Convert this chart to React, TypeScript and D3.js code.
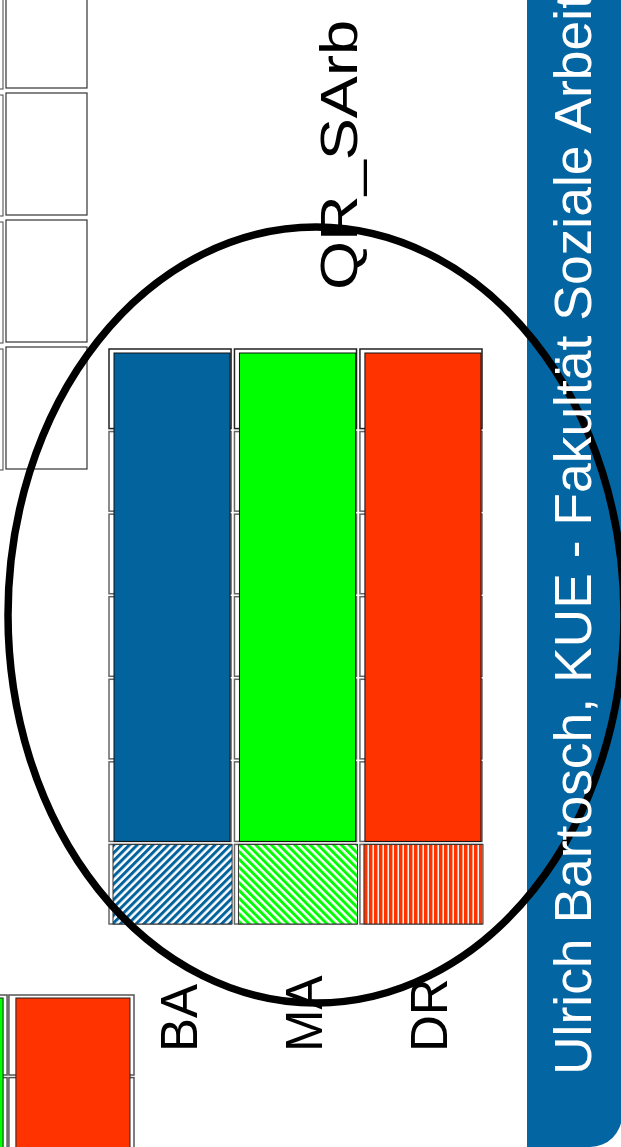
import * as d3 from "d3";

// main chart (rotated slide fragment)
const categories = ["BA", "MA", "DR"];
const solidValues = [6, 6, 6];
const hatchedValues = [1, 1, 1];
const gridRows = [0, 1, 2, 3, 4, 5, 6];

// partial charts cut off at the left edge
const leftRows = [0, 1, 2, 3];
const bottomCategories = ["MA", "DR"];
const bottomValues = [7, 7];

const title = "QR_SArb";
const footer = "Ulrich Bartosch, KUE - Fakultät Soziale Arbeit";

const W = 621;
const H = 1147;
const font = "'Liberation Sans', Arial, sans-serif";

const colors: Record<string, string> = {
  BA: "#03639c",
  MA: "#00ff00",
  DR: "#ff3300",
};

function App() {
  const x = d3
    .scaleBand<string>()
    .domain(categories)
    .range([112, 484])
    .paddingInner(0.035);
  const y = d3.scaleLinear().domain([0, 7]).range([926, 348]);

  const leftY = d3.scaleLinear().domain([0, 4]).range([472, -36]);

  const bx = d3
    .scaleBand<string>()
    .domain(bottomCategories)
    .range([-116, 134])
    .paddingInner(0.03);
  const by = d3.scaleLinear().domain([0, 7]).range([995 + 7 * 82.6, 995]);

  const bw = x.bandwidth();

  return (
    <svg
      width={W}
      height={H}
      style={{ position: "absolute", left: 0, top: 0, background: "#fff" }}
    >
      <defs>
        <pattern id="hBA" width="5.5" height="5.5" patternUnits="userSpaceOnUse" patternTransform="rotate(45)">
          <rect width="5.5" height="5.5" fill="#fff" />
          <rect width="3" height="5.5" fill={colors.BA} />
        </pattern>
        <pattern id="hMA" width="5.5" height="5.5" patternUnits="userSpaceOnUse" patternTransform="rotate(-45)">
          <rect width="5.5" height="5.5" fill="#fff" />
          <rect width="3" height="5.5" fill={colors.MA} />
        </pattern>
        <pattern id="hDR" width="5" height="5" patternUnits="userSpaceOnUse">
          <rect width="5" height="5" fill="#ff3300" />
          <rect x="2" width="1" height="5" fill="#ff9c80" />
          <rect x="3" width="1" height="5" fill="#fff2ee" />
        </pattern>
      </defs>

      {/* left partial grid */}
      {leftRows.map((r) => (
        <g key={"l" + r}>
          <rect x={-80} y={leftY(r + 1) + 4} width={83} height={leftY(r) - leftY(r + 1) - 6} fill="#fff" stroke="#444" strokeWidth={1} />
          <rect x={6} y={leftY(r + 1) + 2} width={81} height={leftY(r) - leftY(r + 1) - 5} fill="#fff" stroke="#333" strokeWidth={1.2} />
        </g>
      ))}

      {/* bottom-left partial chart */}
      {bottomCategories.map((c) =>
        gridRows.slice(0, 2).map((r) => (
          <rect key={c + r} x={(bx(c) ?? 0) - 2} y={by(7 - r)} width={bx.bandwidth() + 2} height={80} fill="#fff" stroke="#555" strokeWidth={1.5} />
        ))
      )}
      {bottomCategories.map((c, i) => (
        <rect key={"bb" + c} x={(bx(c) ?? 0) + 5} y={by(bottomValues[i]) + 3} width={bx.bandwidth() - 9} height={by(0) - by(bottomValues[i])} fill={colors[c]} stroke="#222" strokeWidth={1} />
      ))}

      {/* grid cells behind main bars */}
      {categories.map((c) =>
        gridRows.map((r) => (
          <rect
            key={c + "cell" + r}
            x={(x(c) ?? 0) - 3}
            y={y(r + 1) + 1}
            width={bw + 1}
            height={y(r) - y(r + 1) - 3}
            fill="#fff"
            stroke={r === 6 ? "#222" : "#666"}
            strokeWidth={1.5}
          />
        ))
      )}

      {/* solid parts */}
      {categories.map((c, i) => (
        <rect
          key={c + "solid"}
          x={(x(c) ?? 0) + 2}
          y={y(hatchedValues[i] + solidValues[i]) + 5}
          width={bw - 5}
          height={y(hatchedValues[i]) - y(hatchedValues[i] + solidValues[i]) - 7}
          fill={colors[c]}
          stroke="#111"
          strokeWidth={1}
        />
      ))}

      {/* hatched parts */}
      {categories.map((c, i) => (
        <rect
          key={c + "hatch"}
          x={(x(c) ?? 0) + 1}
          y={y(hatchedValues[i]) + 1}
          width={bw - 2}
          height={y(0) - y(hatchedValues[i]) - 3}
          fill={`url(#h${c})`}
          stroke="#333"
          strokeWidth={1}
        />
      ))}

      {/* category labels */}
      {categories.map((c) => (
        <text
          key={c + "lbl"}
          transform={`translate(${(x(c) ?? 0) + bw / 2 + 24},1052) rotate(-90)`}
          fontFamily={font}
          fontSize={51}
          fill="#000"
        >
          {c}
        </text>
      ))}

      <text
        transform="translate(357,290) rotate(-90)"
        fontFamily={font}
        fontSize={51}
        textLength={270}
        lengthAdjust="spacingAndGlyphs"
        fill="#000"
      >
        {title}
      </text>

      {/* footer band */}
      <path d={`M527,0 H${W + 10} V${H} H527 Z`} fill="#0365a1" />
      <path d={`M${W + 1},${H - 32} A32,32 0 0 1 ${W - 31},${H} H${W + 1} Z`} fill="#fff" />

      <ellipse cx={316} cy={615} rx={308} ry={388} fill="none" stroke="#000" strokeWidth={7.5} />

      <text
        transform="translate(591,1075) rotate(-90)"
        fontFamily={font}
        fontSize={51}
        textLength={1081}
        lengthAdjust="spacingAndGlyphs"
        fill="#fff"
      >
        {footer}
      </text>
    </svg>
  );
}

export default App;
